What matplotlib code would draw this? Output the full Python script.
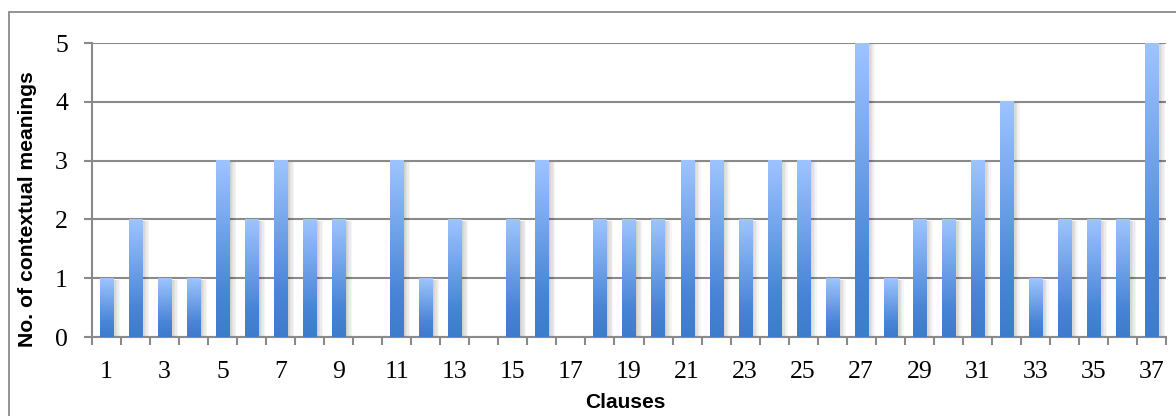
import matplotlib
matplotlib.use("Agg")
import matplotlib.pyplot as plt
import numpy as np
from matplotlib.colors import LinearSegmentedColormap
from matplotlib.patches import Rectangle
import matplotlib.patheffects as pe

# Number of contextual meanings per clause
clauses = list(range(1, 38))
meanings = [1, 2, 1, 1, 3, 2, 3, 2, 2, 0, 3, 1, 2, 0, 2, 3, 0, 2, 2, 2,
            3, 3, 2, 3, 3, 1, 5, 1, 2, 2, 3, 4, 1, 2, 2, 2, 5]
x_tick_labels = [str(c) for c in clauses if c % 2 == 1]
y_ticks = [0, 1, 2, 3, 4, 5]

GRID = "#8a8a8a"
bar_cmap = LinearSegmentedColormap.from_list(
    "bar", [(0.0, "#3d7bcb"), (0.25, "#4985d6"), (1.0, "#9ec4ff")])

fig = plt.figure(figsize=(11.76, 4.16), dpi=100)
W, H = 1176, 416

# outer chart frame
fig.add_artist(Rectangle((9 / W, -0.1), 1.2, 1 - 12 / H + 0.1,
                         transform=fig.transFigure, fill=False,
                         edgecolor=GRID, linewidth=1.3))

ax = fig.add_axes([92 / W, 1 - 337 / H, (1166 - 92) / W, (337 - 43) / H])

bar_w = 0.45
grad = np.linspace(0, 1, 256).reshape(-1, 1)
shadow = [pe.SimplePatchShadow(offset=(k, -1), shadow_rgbFace="#000000", alpha=0.04)
          for k in (1, 2, 3, 4, 5)]
for c, v in zip(clauses, meanings):
    if v <= 0:
        continue
    rect = Rectangle((c - bar_w / 2, 0), bar_w, v, facecolor="#6a9fe6",
                     edgecolor="none", zorder=2.5)
    rect.set_path_effects(shadow + [pe.Normal()])
    ax.add_patch(rect)
    ax.imshow(grad, extent=[c - bar_w / 2, c + bar_w / 2, 0, v],
              origin="lower", aspect="auto", cmap=bar_cmap, zorder=3,
              interpolation="bilinear")

ax.set_xlim(0.5, 37.5)
ax.set_ylim(0, 5)
ax.set_yticks(y_ticks)
ax.set_yticklabels([str(t) for t in y_ticks])
ax.set_xticks([c for c in clauses if c % 2 == 1])
ax.set_xticklabels(x_tick_labels)
ax.set_xticks(np.arange(0.5, 38.0, 1.0), minor=True)

for s in ("top", "right"):
    ax.spines[s].set_visible(False)
for s in ("left", "bottom"):
    ax.spines[s].set_color(GRID)
    ax.spines[s].set_linewidth(1.5)

ax.yaxis.grid(True, color=GRID, linewidth=1.5, zorder=1)
ax.set_axisbelow(True)

serif = ["Liberation Serif", "DejaVu Serif"]
ax.tick_params(axis="y", which="major", length=5.8, width=1.5, color=GRID,
               pad=11.5, labelsize=18.5)
ax.tick_params(axis="x", which="major", length=0, pad=17, labelsize=18.5)
ax.tick_params(axis="x", which="minor", length=5.8, width=1.5, color=GRID)
for lbl in ax.get_xticklabels() + ax.get_yticklabels():
    lbl.set_fontfamily(serif)

sans = ["Liberation Sans", "DejaVu Sans"]
fig.text(28 / W, 1 - 209 / H, "No. of contextual meanings", rotation=90,
         ha="center", va="center", fontsize=15.2, fontweight="bold", family=sans)
fig.text(625 / W, 1 - 402 / H, "Clauses", ha="center", va="center",
         fontsize=15, fontweight="bold", family=sans)

fig.savefig("out.png", dpi=100)
